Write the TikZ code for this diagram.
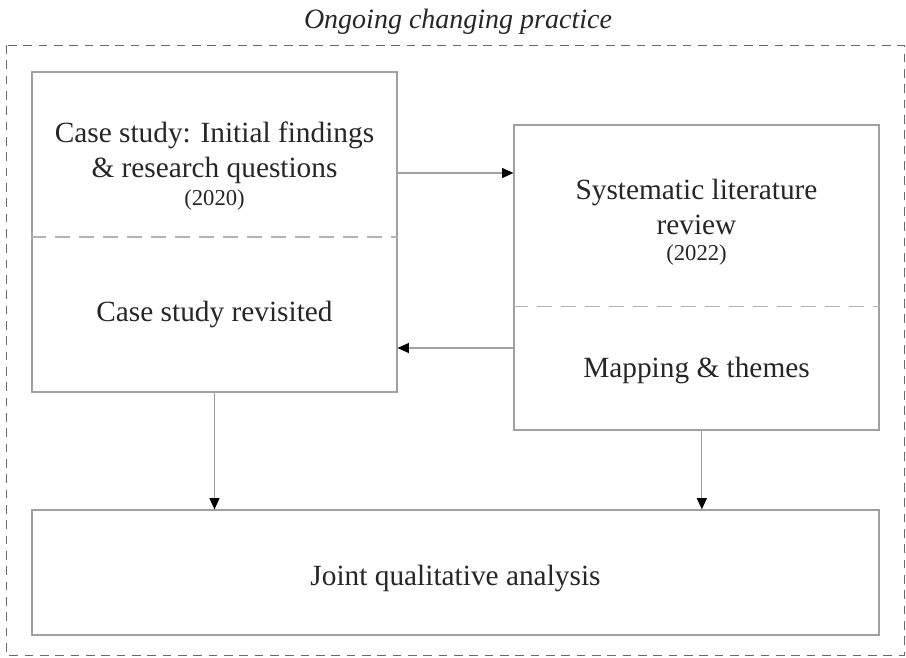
\documentclass[tikz,border=0pt]{standalone}
\usepackage{fontspec}
\setmainfont{Liberation Serif}
\usetikzlibrary{arrows.meta}
\usetikzlibrary{positioning}
\definecolor{boxgray}{HTML}{A0A0A0}
\definecolor{framegray}{HTML}{6A6A6A}
\definecolor{txtgray}{HTML}{262626}
\tikzset{stage/.style = {draw=boxgray, line width=0.9pt, inner sep=0pt},
         maintext/.style = {text=txtgray, font=\fontsize{22}{26}\selectfont,
                            align=center, inner sep=0pt, anchor=base},
         yeartext/.style = {text=txtgray, font=\fontsize{17}{20}\selectfont,
                            inner sep=0pt, anchor=base},
         flow/.style = {draw=boxgray, line width=0.9pt,
                        -{Triangle[length=8.5pt,width=7.5pt,color=black]}},
         divider/.style = {draw=boxgray!80, line width=0.8pt,
                           dash pattern=on 11pt off 7pt}}

\begin{document}
\begin{tikzpicture}[x=0.75pt, y=-0.75pt]
    \useasboundingbox (0,0) rectangle (906,657);

    % outer frame and its title
    \draw[framegray, line width=0.7pt, dash pattern=on 6.5pt off 5pt] (6,45) rectangle (904,655);
    \node[text=txtgray, font=\fontsize{21}{24}\selectfont\itshape, inner sep=0pt] (practice) at (458,22) {Ongoing changing practice};

    % boxes
    \node[stage, minimum width=273.75pt, minimum height=240pt] (casebox) at (214.5,232) {};
    \node[stage, minimum width=273.75pt, minimum height=228.75pt] (reviewbox) at (696.5,277.5) {};
    \node[stage, minimum width=635.25pt, minimum height=93.75pt] (jointbox) at (455.5,572.5) {};

    \draw[divider] ([yshift=-3.75pt]casebox.west) -- ([yshift=-3.75pt]casebox.east);
    \draw[divider] ([yshift=-21.4pt]reviewbox.west) -- ([yshift=-21.4pt]reviewbox.east);

    % texts (base = last line)
    \node[maintext] (initial) at (214.5,177) {Case study: Initial findings\\ \& research questions};
    \node[yeartext] (year1) at (214.5,205) {(2020)};
    \node[maintext] (revisit) at (214.5,321) {Case study revisited};
    \node[maintext] (slr) at (696.5,234) {Systematic literature\\ review};
    \node[yeartext] (year2) at (696.5,260) {(2022)};
    \node[maintext] (mapping) at (696.5,377) {Mapping \& themes};
    \node[maintext] (joint) at (455.5,585) {Joint qualitative analysis};

    % connectors
    \coordinate (fwd) at (0,173);
    \coordinate (back) at (0,348);
    \draw[flow] (casebox.east |- fwd) -- (reviewbox.west |- fwd);
    \draw[flow] (reviewbox.west |- back) -- (casebox.east |- back);
    \draw[flow] (casebox.south) -- (casebox.south |- jointbox.north);
    \draw[flow] ([xshift=4pt]reviewbox.south) -- ([xshift=4pt]reviewbox.south |- jointbox.north);
\end{tikzpicture}
\end{document}
